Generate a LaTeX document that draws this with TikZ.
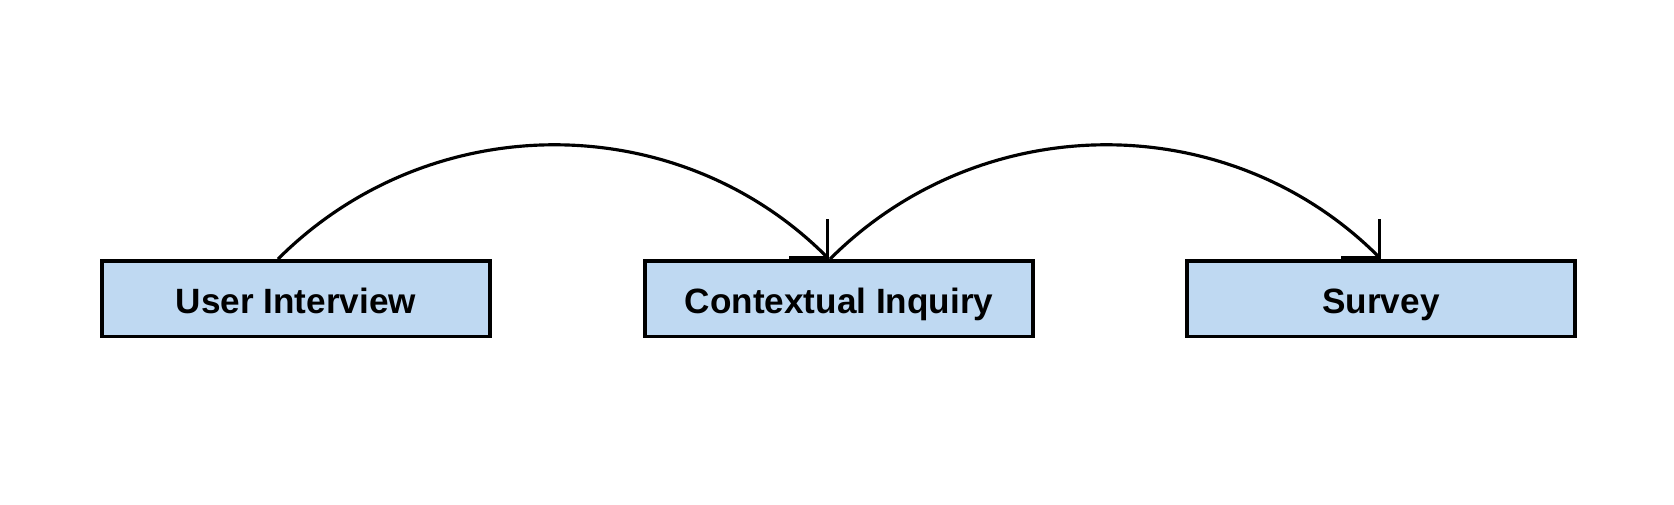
\documentclass[tikz,border=0pt]{standalone}
\usepackage{fontspec}
\setsansfont{Liberation Sans}
\usetikzlibrary{arrows.meta}

\definecolor{boxblue}{RGB}{191,217,242}

\tikzset{
    method/.style={draw, fill=boxblue, line width=1.1pt,
        minimum width=3.875cm, minimum height=0.755cm, inner sep=0pt,
        text height=0.292cm, text depth=0pt,
        font=\sffamily\bfseries\fontsize{10pt}{12pt}\selectfont},
    link/.style={line width=0.9pt, -{Straight Barb[angle=90:0.38cm]}}
}

\begin{document}
\begin{tikzpicture}
    \useasboundingbox (0,0) rectangle (16.74,5.04);

    \coordinate (U) at (2.96, 2.0525);
    \coordinate (C) at (8.39, 2.0525);
    \coordinate (S) at (13.81, 2.0525);

    \node[method] (ui) at (U) {User Interview};
    \node[method] (ci) at (C) {Contextual Inquiry};
    \node[method] (sv) at (S) {Survey};

    \draw[link] ([xshift=-1.8mm]ui.north) to[out=45, in=135] ([xshift=-1mm]ci.north);
    \draw[link] ([xshift=-0.9mm]ci.north) to[out=45, in=135] (sv.north);
\end{tikzpicture}
\end{document}
